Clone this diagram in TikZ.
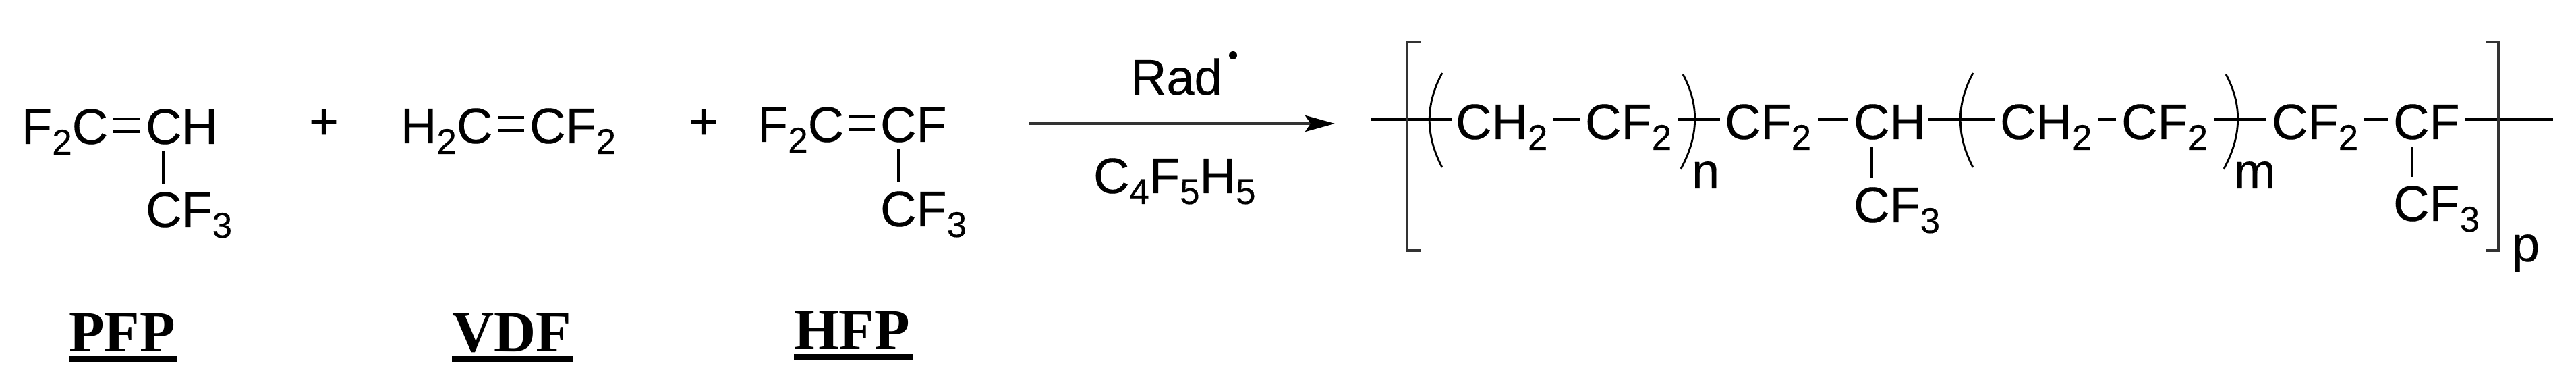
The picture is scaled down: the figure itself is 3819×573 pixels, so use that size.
\documentclass[tikz,border=0pt]{standalone}
\usepackage{fontspec}
\setmainfont{Liberation Sans}[FakeBold=0.25]
\newfontfamily\labelfont{Liberation Serif}[BoldFont={Liberation Serif Bold}]
\newfontfamily\plusfont{Liberation Sans}[FakeBold=1.2]
\usetikzlibrary{calc,arrows.meta}
\newcommand{\chs}[1]{\raisebox{-4pt}{\fontsize{13.25pt}{14pt}\selectfont #1}}
\tikzset{
  chem/.style={anchor=base west,inner sep=0pt,outer sep=0pt,font=\fontsize{18.5pt}{20pt}\selectfont},
  bond/.style={line width=0.95pt,black},
  brack/.style={line width=0.95pt,draw=black!80},
  paren/.style={line width=0.7pt,black},
  monolabel/.style={anchor=base west,inner sep=0pt,outer sep=0pt,font=\fontsize{21.5pt}{23pt}\labelfont\bfseries},
  ul/.style={line width=2.25pt,black},
  plus/.style={inner sep=0pt,outer sep=0pt,font=\fontsize{18.5pt}{20pt}\plusfont},
  rxn/.style={line width=1.1pt,draw=black!80,-{Stealth[length=11pt,width=6pt,inset=2pt,fill=black,color=black]}}
}
\begin{document}
\begin{tikzpicture}[x=0.25pt,y=-0.25pt]
\useasboundingbox (0,0) rectangle (3819,573);
% PFP
\node[chem] (p1) at (32,213) {F\chs{2}C};
\node[chem] (p2) at (216,213) {CH};
\node[chem] (p3) at (216,336) {CF\chs{3}};
\draw[bond] ($(p1.base east)+(8,-37)$) -- ($(p2.base west)+(-8,-37)$);
\draw[bond] ($(p1.base east)+(8,-18)$) -- ($(p2.base west)+(-8,-18)$);
\draw[bond] ($(p2.base west)+(26,10)$) -- ($(p3.base west)+(26,-64)$);
\node[plus] (plusa) at (480,184) {+};
% VDF
\node[chem] (v1) at (594,212) {H\chs{2}C};
\node[chem] (v2) at (785,212) {CF\chs{2}};
\draw[bond] ($(v1.base east)+(8,-38)$) -- ($(v2.base west)+(-8,-38)$);
\draw[bond] ($(v1.base east)+(8,-19)$) -- ($(v2.base west)+(-8,-19)$);
\node[plus] (plusb) at (1043,184) {+};
% HFP
\node[chem] (h1) at (1123,210) {F\chs{2}C};
\node[chem] (h2) at (1305,210) {CF};
\node[chem] (h3) at (1305,335) {CF\chs{3}};
\draw[bond] ($(h1.base east)+(8,-38)$) -- ($(h2.base west)+(-8,-38)$);
\draw[bond] ($(h1.base east)+(8,-18)$) -- ($(h2.base west)+(-8,-18)$);
\draw[bond] ($(h2.base west)+(27,11)$) -- ($(h3.base west)+(27,-65)$);
% labels
\node[monolabel] (lp) at (102,521) {PFP};
\node[monolabel] (lv) at (670,521) {VDF};
\node[monolabel] (lh) at (1177,518) {HFP};
\draw[ul] ($(lp.base west)+(0,11)$) -- ($(lp.base east)+(3,11)$);
\draw[ul] ($(lv.base west)+(0,11)$) -- ($(lv.base east)+(3,11)$);
\draw[ul] ($(lh.base west)+(0,11)$) -- ($(lh.base east)+(5,11)$);
% reaction arrow
\coordinate (ra) at (1526,183);
\coordinate (rb) at (1979,183);
\draw[rxn] (ra) -- (rb);
\node[chem] (rad) at (1676,140) {Rad};
\node[circle,fill=black,inner sep=0pt,minimum size=3pt] (raddot) at (1828,82) {};
\node[chem] (solv) at (1621,286) {C\chs{4}F\chs{5}H\chs{5}};
% polymer
\node[chem] (a1) at (2158,206) {CH\chs{2}};
\node[chem] (a2) at (2350,206) {CF\chs{2}};
\node[chem] (nn) at (2508,279) {n};
\node[chem] (a3) at (2557,206) {CF\chs{2}};
\node[chem] (a4) at (2748,206) {CH};
\node[chem] (a5) at (2748,329) {CF\chs{3}};
\node[chem] (b1) at (2965,206) {CH\chs{2}};
\node[chem] (b2) at (3145,206) {CF\chs{2}};
\node[chem] (mm) at (3312,279) {m};
\node[chem] (b3) at (3368,206) {CF\chs{2}};
\node[chem] (b4) at (3548,206) {CF};
\node[chem] (b5) at (3548,327) {CF\chs{3}};
\node[chem] (pp) at (3724,387) {p};
\coordinate (le) at (2033,177);
\coordinate (re) at (3785,177);
\draw[bond] (le) -- ($(a1.base west)+(-6,-29)$);
\draw[bond] ($(a1.base east)+(8,-29)$) -- ($(a2.base west)+(-7,-29)$);
\draw[bond] ($(a2.base east)+(10,-29)$) -- ($(a3.base west)+(-7,-29)$);
\draw[bond] ($(a3.base east)+(10,-29)$) -- ($(a4.base west)+(-8,-29)$);
\draw[bond] ($(a4.base east)+(4,-29)$) -- ($(b1.base west)+(-8,-29)$);
\draw[bond] ($(b1.base east)+(9,-29)$) -- ($(b2.base west)+(-8,-29)$);
\draw[bond] ($(b2.base east)+(9,-29)$) -- ($(b3.base west)+(-8,-29)$);
\draw[bond] ($(b3.base east)+(9,-29)$) -- ($(b4.base west)+(-7,-29)$);
\draw[bond] ($(b4.base east)+(8,-29)$) -- (re);
\draw[bond] ($(a4.base west)+(27,11)$) -- ($(a5.base west)+(27,-65)$);
\draw[bond] ($(b4.base west)+(28,11)$) -- ($(b5.base west)+(28,-65)$);
% brackets
\draw[brack] (2106,62) -- (2086,62) -- (2086,371) -- (2106,371);
\draw[brack] (3685,62) -- (3704,62) -- (3704,371) -- (3685,371);
% parentheses
\draw[paren] (2138,108) .. controls (2113,155) and (2113,200) .. (2138,248);
\draw[paren] (2495,110) .. controls (2519,155) and (2519,200) .. (2492,250);
\draw[paren] (2925,108) .. controls (2900,155) and (2900,200) .. (2925,248);
\draw[paren] (3300,110) .. controls (3324,155) and (3324,200) .. (3297,250);
\end{tikzpicture}
\end{document}
